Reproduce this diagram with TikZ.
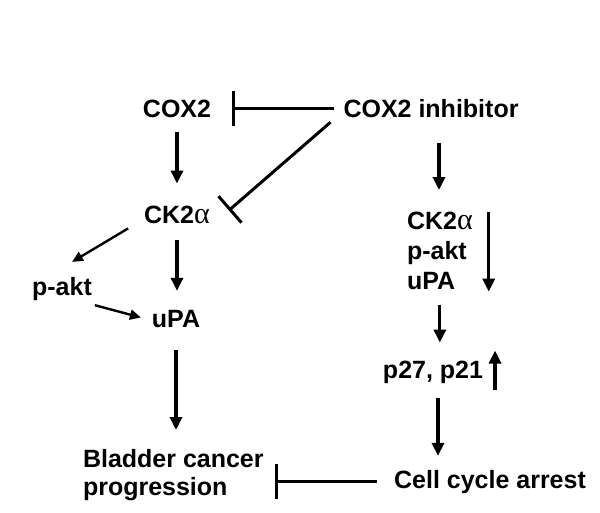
\documentclass[tikz,border=0pt]{standalone}
\usepackage{fontspec}
\setmainfont{Liberation Sans}
\newfontfamily\grk{Liberation Serif}
\newcommand{\alp}{{\grk\mdseries\fontsize{30}{30}\selectfont α}}
\usetikzlibrary{arrows.meta}
\tikzset{
  lbl/.style={inner sep=0pt, outer sep=0pt, font=\fontsize{25}{30}\selectfont\bfseries},
  arr/.style={line width=3.2pt, -{Triangle[length=13pt,width=12pt]}},
  sarr/.style={line width=2.4pt, -{Triangle[length=11pt,width=10pt]}},
  inhib/.style={line width=3pt, -{Bar[width=35pt,line width=3pt]}}
}
\begin{document}
\begin{tikzpicture}[x=1pt,y=1pt]
\useasboundingbox[fill=white] (0,0) rectangle (600,-512);
% nodes
\node[lbl, anchor=base] (cox2) at (177,-117) {COX2};
\node[lbl, anchor=base] (inh) at (431,-117) {COX2 inhibitor};
\node[lbl, anchor=base] (ck2L) at (177,-223) {CK2\alp};
\node[lbl, anchor=base] (pakL) at (62,-295) {p-akt};
\node[lbl, anchor=base] (upaL) at (176,-327) {uPA};
\node[lbl, anchor=north west, align=left, font=\fontsize{25}{28}\selectfont\bfseries] (blad) at (83,-449) {Bladder cancer\\progression};
\node[lbl, anchor=north west, align=left] (rcol) at (407,-212) {CK2\alp\\p-akt\\uPA};
\node[lbl, anchor=base] (p27) at (433,-378) {p27, p21};
\node[lbl, anchor=base] (cell) at (490,-488) {Cell cycle arrest};
% connectors
\draw[inhib] ([xshift=-10pt]inh.west) -- ([xshift=21pt]inh.west -| cox2.east);
\draw[inhib] ([xshift=-13pt,yshift=-5pt]inh.south west) -- ([xshift=19pt,yshift=4pt]ck2L.east);
\draw[arr] ([yshift=-15pt]cox2.south) -- ([yshift=22pt]cox2.south |- ck2L.north);
\draw[sarr] ([xshift=-16pt,yshift=-14pt]ck2L.west) -- ([xshift=10pt,yshift=15pt]pakL.north);
\draw[sarr] ([xshift=3pt,yshift=-5pt]pakL.south east) -- ([xshift=-11pt,yshift=1pt]upaL.west);
\draw[arr] ([yshift=-17pt]ck2L.south) -- ([yshift=19pt]ck2L.south |- upaL.north);
\draw[arr] ([yshift=-23pt]upaL.south) -- ([yshift=19pt]upaL.south |- blad.north);
\draw[arr] ([xshift=8pt,yshift=-26pt]inh.south) -- ([xshift=32pt,yshift=22pt]rcol.north west);
\draw[arr] ([xshift=16pt]rcol.north east) -- ([xshift=16pt,yshift=-2pt]rcol.south east);
\draw[arr] ([yshift=-15pt]rcol.south) -- ([yshift=18pt]rcol.south |- p27.north);
\draw[arr] ([xshift=12pt,yshift=-7pt]p27.south east) -- ([xshift=12pt,yshift=10pt]p27.north east);
\draw[arr] ([xshift=5pt,yshift=-15pt]p27.south) -- ([xshift=5pt,yshift=14pt]p27.south |- cell.north);
\draw[inhib] ([xshift=-17pt]cell.west) -- ([xshift=11pt]cell.west -| blad.east);
\end{tikzpicture}
\end{document}
